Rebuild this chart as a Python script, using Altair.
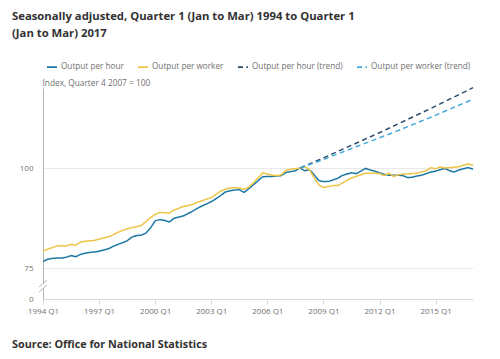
import altair as alt
import pandas as pd

# ---- data ----
quarters = [f"{y} Q{q}" for y in range(1994, 2018) for q in range(1, 5)][:93]

output_per_hour = [
    76.6, 77.2, 77.4, 77.5, 77.5, 77.7, 78.1, 77.8, 78.4, 78.7,
    78.9, 79.0, 79.2, 79.5, 79.8, 80.4, 80.9, 81.3, 81.8, 82.7,
    83.1, 83.2, 83.7, 85.0, 86.8, 87.1, 86.9, 86.5, 87.4, 87.7,
    88.0, 88.6, 89.2, 89.9, 90.5, 91.0, 91.6, 92.3, 93.1, 94.0,
    94.3, 94.5, 94.6, 93.9, 94.8, 95.8, 96.8, 97.8, 97.9, 97.9,
    98.0, 98.1, 98.9, 99.1, 99.3, 100.0, 99.3, 99.6, 98.3, 96.9,
    96.6, 96.6, 97.0, 97.4, 98.1, 98.5, 98.8, 98.6, 99.2, 99.9,
    99.5, 99.2, 98.8, 98.4, 98.2, 98.2, 98.2, 98.1, 97.6, 97.7,
    98.0, 98.2, 98.6, 99.0, 99.2, 99.6, 99.9, 99.3, 99.0, 99.5,
    99.8, 100.1, 99.7,
]

output_per_worker = [
    79.2, 79.7, 80.1, 80.5, 80.6, 80.5, 80.9, 80.7, 81.4, 81.7,
    81.8, 81.9, 82.2, 82.5, 82.8, 83.3, 83.9, 84.4, 84.8, 85.1,
    85.3, 85.6, 86.6, 87.6, 88.4, 88.9, 88.8, 88.7, 89.5, 89.9,
    90.4, 90.6, 90.9, 91.4, 91.8, 92.2, 92.6, 93.4, 94.2, 94.7,
    95.0, 95.1, 95.0, 94.7, 95.2, 96.3, 97.5, 98.8, 98.5, 98.2,
    98.1, 98.3, 99.4, 99.7, 99.8, 100.0, 100.3, 99.6, 97.6, 95.8,
    95.1, 95.4, 95.6, 95.6, 96.2, 96.9, 97.5, 97.9, 98.3, 98.7,
    98.7, 98.7, 98.6, 98.1, 98.7, 97.9, 98.3, 98.5, 98.5, 98.6,
    98.7, 99.0, 99.3, 100.1, 99.8, 100.3, 100.0, 100.1, 100.2, 100.3,
    100.7, 101.0, 100.7,
]

trend_quarters = ["2007 Q4", "2008 Q4", "2009 Q4", "2010 Q4", "2011 Q4", "2012 Q4",
                  "2013 Q4", "2014 Q4", "2015 Q4", "2016 Q4", "2017 Q1"]
trend_hour = [100.0, 102.0, 104.1, 106.2, 108.3, 110.5, 112.7, 114.9, 117.2, 119.5, 120.1]
trend_worker = [100.0, 101.7, 103.5, 105.3, 107.1, 108.9, 110.8, 112.7, 114.7, 116.7, 117.2]

series_names = ["Output per hour", "Output per worker",
                "Output per hour (trend)", "Output per worker (trend)"]
series_colors = ["#1c78a2", "#eec446", "#2b4a6b", "#45a9dc"]
series_dashes = [[1, 0], [1, 0], [5, 3.5], [5, 3.5]]

title_lines = ["Seasonally adjusted, Quarter 1 (Jan to Mar) 1994 to Quarter 1",
               "(Jan to Mar) 2017"]
source_text = "Source: Office for National Statistics"
y_title = "Index, Quarter 4 2007 = 100"

# ---- build table ----
rows = []
for i, q in enumerate(quarters):
    rows.append({"idx": i, "quarter": q, "series": series_names[0], "value": output_per_hour[i]})
    rows.append({"idx": i, "quarter": q, "series": series_names[1], "value": output_per_worker[i]})
for tq, h, w in zip(trend_quarters, trend_hour, trend_worker):
    i = quarters.index(tq)
    rows.append({"idx": i, "quarter": tq, "series": series_names[2], "value": h})
    rows.append({"idx": i, "quarter": tq, "series": series_names[3], "value": w})
df = pd.DataFrame(rows)

W, H = 430, 211
FONT = "Open Sans"
GREY = "#707070"

legend = alt.Legend(title=None, orient="none", legendX=3, legendY=-27,
                    direction="horizontal", symbolType="stroke",
                    symbolSize=100, symbolStrokeWidth=1.8,
                    labelFontSize=8.2, labelColor=GREY, labelFont=FONT,
                    columnPadding=10, labelOffset=3)

lines = alt.Chart(df).mark_line(strokeWidth=1.5).encode(
    x=alt.X("idx:Q",
            scale=alt.Scale(domain=[0, 92], nice=False, zero=False),
            axis=alt.Axis(values=list(range(0, 93, 12)),
                          labelExpr="(1994 + datum.value / 4) + ' Q1'",
                          tickSize=5, tickColor="#d3dbe3", domainColor="#d3dbe3",
                          labelFontSize=8, labelColor=GREY, labelFont=FONT,
                          labelPadding=3, labelFlush=False, labelOverlap=False,
                          grid=False, title=None)),
    y=alt.Y("value:Q",
            scale=alt.Scale(domain=[0, 75, 120], range=[H, 180, 0], nice=False, zero=False),
            axis=alt.Axis(values=[0, 75, 100], grid=True, gridColor="#e9e9e9",
                          domainColor="#b5b5b5", ticks=False,
                          labelFontSize=8, labelColor=GREY, labelFont=FONT, labelPadding=10,
                          labelFlush=False, labelOverlap=False,
                          title=y_title, titleAngle=0, titleAlign="left",
                          titleX=-1, titleY=-5, titleBaseline="middle",
                          titleFontSize=8.3, titleFontWeight="normal",
                          titleColor=GREY, titleFont=FONT)),
    color=alt.Color("series:N",
                    scale=alt.Scale(domain=series_names, range=series_colors),
                    legend=legend),
    strokeDash=alt.StrokeDash("series:N",
                              scale=alt.Scale(domain=series_names, range=series_dashes),
                              legend=legend),
    detail="series:N",
)

one = pd.DataFrame({"a": [0]})

title_mark = alt.Chart(one).mark_text(
    text=title_lines, align="left", baseline="alphabetic", font=FONT, fontSize=11.3,
    fontWeight="bold", color="#323132", lineHeight=16.5
).encode(x=alt.value(-31), y=alt.value(-68))

source_mark = alt.Chart(one).mark_text(
    text=source_text, align="left", baseline="alphabetic", font=FONT, fontSize=10.8,
    fontWeight="bold", color="#323132"
).encode(x=alt.value(-31), y=alt.value(260))

# axis break marks
gap = alt.Chart(one).mark_rule(color="white", strokeWidth=3).encode(
    x=alt.value(0), y=alt.value(196), y2=alt.value(200))
brk1 = alt.Chart(one).mark_rule(color="#b5b5b5", strokeWidth=1).encode(
    x=alt.value(-4), y=alt.value(199), x2=alt.value(4), y2=alt.value(192))
brk2 = alt.Chart(one).mark_rule(color="#b5b5b5", strokeWidth=1).encode(
    x=alt.value(-4), y=alt.value(204), x2=alt.value(4), y2=alt.value(197))

chart = alt.layer(lines, gap, brk1, brk2, title_mark, source_mark).properties(
    width=W, height=H,
    autosize=alt.AutoSizeParams(type="none"),
    padding={"left": 35, "top": 80, "right": 17, "bottom": 52},
).configure_view(strokeWidth=0)

chart.save("out.html", embed_options={"renderer": "svg", "actions": False})
